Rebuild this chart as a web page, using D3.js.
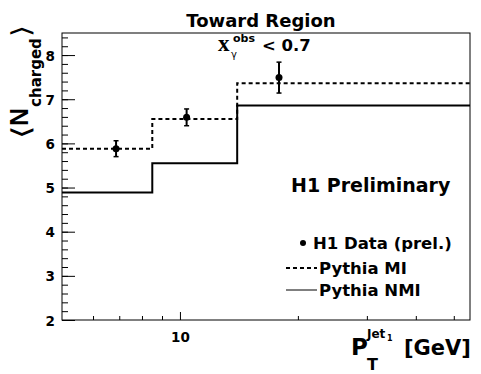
<!DOCTYPE html>
<html>
<head>
<meta charset="utf-8">
<title>Toward Region</title>
<script src="https://d3js.org/d3.v7.min.js"></script>
<style>
body { margin: 0; background: #fff; }
svg text { fill: #000; }
.big { font-family: "DejaVu Sans", sans-serif; font-weight: bold; }
.tick text { font-family: "DejaVu Sans", sans-serif; font-weight: bold; }
</style>
</head>
<body>
<script>

// data
var binEdges  = [5, 8.5, 14, 55];
var pythiaMI  = [5.88, 6.55, 7.36];
var pythiaNMI = [4.89, 5.55, 6.86];
var dataPt    = [6.87, 10.4, 17.9];
var dataVal   = [5.88, 6.59, 7.49];
var dataErr   = [0.18, 0.19, 0.35];

var yMajor = [2, 3, 4, 5, 6, 7, 8];
var xMajor = [10];
var xMinor = [6, 7, 8, 9, 20, 30, 40, 50];

var W = 481, H = 374;
var pLeft = 62, pRight = 470, pTop = 33, pBottom = 320;

var svg = d3.select("body").append("svg")
    .attr("width", W)
    .attr("height", H);

var x = d3.scaleLog().domain([5, 55]).range([pLeft, pRight]);
var y = d3.scaleLinear().domain([2, 8.5]).range([pBottom, pTop]);

// y axis, ticks pointing inward
var yMinor = d3.range(2, 8.45, 0.2).map(function(v) { return +v.toFixed(1); });
svg.append("g")
    .attr("transform", "translate(" + pLeft + ",0)")
    .call(d3.axisLeft(y).tickValues(yMinor).tickSize(-6).tickFormat(""))
    .call(function(g) { g.select(".domain").remove(); });
var yAx = svg.append("g")
    .attr("transform", "translate(" + pLeft + ",0)")
    .call(d3.axisLeft(y).tickValues(yMajor).tickSize(-13).tickPadding(7).tickFormat(d3.format("d")));
yAx.select(".domain").remove();
yAx.attr("font-size", 13.5).attr("font-family", null);
yAx.selectAll("text").attr("dy", "0.37em");

// x axis (log)
svg.append("g")
    .attr("transform", "translate(0," + pBottom + ")")
    .call(d3.axisBottom(x).tickValues(xMinor).tickSize(-4).tickFormat(""))
    .call(function(g) { g.select(".domain").remove(); });
var xAx = svg.append("g")
    .attr("transform", "translate(0," + pBottom + ")")
    .call(d3.axisBottom(x).tickValues(xMajor).tickSize(-8).tickPadding(12).tickFormat(d3.format("d")));
xAx.select(".domain").remove();
xAx.attr("font-size", 13.5).attr("font-family", null);

// frame
svg.append("rect")
    .attr("x", pLeft).attr("y", pTop)
    .attr("width", pRight - pLeft).attr("height", pBottom - pTop)
    .attr("fill", "none").attr("stroke", "#000").attr("stroke-width", 1);

// step histograms
function steps(vals) {
    var pts = vals.map(function(v, i) { return [binEdges[i], v]; });
    pts.push([binEdges[binEdges.length - 1], vals[vals.length - 1]]);
    return pts;
}
var stepLine = d3.line()
    .x(function(d) { return x(d[0]); })
    .y(function(d) { return y(d[1]); })
    .curve(d3.curveStepAfter);

svg.append("path")
    .attr("d", stepLine(steps(pythiaNMI)))
    .attr("fill", "none").attr("stroke", "#000").attr("stroke-width", 2);

svg.append("path")
    .attr("d", stepLine(steps(pythiaMI)))
    .attr("fill", "none").attr("stroke", "#000").attr("stroke-width", 2)
    .attr("stroke-dasharray", "4,3");

// data points with error bars
var pts = svg.selectAll(".pt")
    .data(dataPt.map(function(d, i) { return {x: d, v: dataVal[i], e: dataErr[i]}; }))
    .enter().append("g")
    .attr("class", "pt");
pts.append("line")
    .attr("x1", function(d) { return x(d.x); }).attr("x2", function(d) { return x(d.x); })
    .attr("y1", function(d) { return y(d.v - d.e); }).attr("y2", function(d) { return y(d.v + d.e); })
    .attr("stroke", "#000").attr("stroke-width", 2);
[-1, 1].forEach(function(s) {
    pts.append("line")
        .attr("x1", function(d) { return x(d.x) - 2.5; }).attr("x2", function(d) { return x(d.x) + 2.5; })
        .attr("y1", function(d) { return y(d.v + s * d.e); }).attr("y2", function(d) { return y(d.v + s * d.e); })
        .attr("stroke", "#000").attr("stroke-width", 1.5);
});
pts.append("circle")
    .attr("cx", function(d) { return x(d.x); })
    .attr("cy", function(d) { return y(d.v); })
    .attr("r", 3.5);

// title
svg.append("text").attr("class", "big")
    .attr("x", 261).attr("y", 27)
    .attr("text-anchor", "middle").attr("font-size", 18)
    .text("Toward Region");

// cut label
var cut = svg.append("text").attr("class", "big").attr("y", 51);
cut.append("tspan").attr("x", 218)
    .attr("font-family", "Liberation Serif, serif").attr("font-size", 23).text("x");
cut.append("tspan").attr("x", 233).attr("y", 42).attr("font-size", 11).text("obs");
cut.append("tspan").attr("x", 231).attr("y", 58).attr("font-size", 10)
    .attr("font-weight", "normal").text("γ");
cut.append("tspan").attr("x", 262).attr("y", 51).attr("font-size", 16.5).text("< 0.7");

// y title: N with subscript, plus angle brackets
var yt = svg.append("text").attr("class", "big")
    .attr("transform", "translate(28,126) rotate(-90)");
yt.append("tspan").attr("font-family", "Liberation Sans, Arial, sans-serif")
    .attr("font-size", 25).text("N");
yt.append("tspan").attr("font-size", 15).attr("dx", 1).attr("dy", 13).text("charged");

// brackets: find the glyph's ink box by drawing it on a canvas, then fit it
var brFont = "DejaVu Sans";
function inkBox(ch) {
    var c = document.createElement("canvas");
    c.width = 120; c.height = 120;
    var g = c.getContext("2d");
    g.font = "200 40px '" + brFont + "'";
    g.fillStyle = "#000";
    g.fillText(ch, 40, 80);
    var px = g.getImageData(0, 0, 120, 120).data;
    var x0 = 999, x1 = -1, y0 = 999, y1 = -1;
    for (var j = 0; j < 120; j++) for (var i = 0; i < 120; i++) {
        if (px[(j * 120 + i) * 4 + 3] > 100) {
            if (i < x0) x0 = i; if (i > x1) x1 = i;
            if (j < y0) y0 = j; if (j > y1) y1 = j;
        }
    }
    if (x1 < 0) return null;
    return {x0: x0 - 40, x1: x1 + 1 - 40, y0: y0 - 80, y1: y1 + 1 - 80};
}
function bracket(ch, cx, cy) {
    var b = inkBox(ch) || {x0: 2, x1: 12, y0: -30, y1: 6};
    var sx = 7 / (b.x1 - b.x0), sy = 23 / (b.y1 - b.y0);
    svg.append("text")
        .attr("font-family", brFont).attr("font-size", 40).attr("font-weight", 200)
        .attr("transform", "translate(" + cx + "," + cy + ") rotate(-90) scale(" + sx + "," + sy +
            ") translate(" + (-(b.x0 + b.x1) / 2) + "," + (-(b.y0 + b.y1) / 2) + ")")
        .text(ch);
}
bracket("⟨", 21.5, 131.5);
bracket("⟩", 21.5, 31.5);

// x title
var xt = svg.append("text").attr("class", "big");
xt.append("tspan").attr("x", 351).attr("y", 355).attr("font-size", 23).text("P");
xt.append("tspan").attr("x", 367).attr("y", 370).attr("font-size", 16).text("T");
xt.append("tspan").attr("x", 367).attr("y", 338).attr("font-size", 12).text("Jet");
xt.append("tspan").attr("x", 387).attr("y", 341).attr("font-size", 8).text("1");
xt.append("tspan").attr("x", 404).attr("y", 355).attr("font-size", 21).text("[GeV]");

// H1 Preliminary
svg.append("text").attr("class", "big")
    .attr("x", 291).attr("y", 192).attr("font-size", 19)
    .text("H1 Preliminary");

// legend
var legY = [243, 268, 290];
var legText = ["H1 Data (prel.)", "Pythia MI", "Pythia NMI"];
var leg = svg.append("g");
leg.append("circle").attr("cx", 303).attr("cy", legY[0]).attr("r", 3);
leg.append("line").attr("x1", 286).attr("x2", 317).attr("y1", legY[1]).attr("y2", legY[1])
    .attr("stroke", "#000").attr("stroke-width", 2).attr("stroke-dasharray", "4,3");
leg.append("line").attr("x1", 286).attr("x2", 317).attr("y1", legY[2]).attr("y2", legY[2])
    .attr("stroke", "#000").attr("stroke-width", 1);
leg.selectAll("text").data(legText).enter().append("text")
    .attr("class", "big")
    .attr("x", function(d, i) { return i === 0 ? 313 : 319; })
    .attr("y", function(d, i) { return legY[i] + 6; })
    .attr("font-size", 16.5)
    .text(function(d) { return d; });

</script>
</body>
</html>
